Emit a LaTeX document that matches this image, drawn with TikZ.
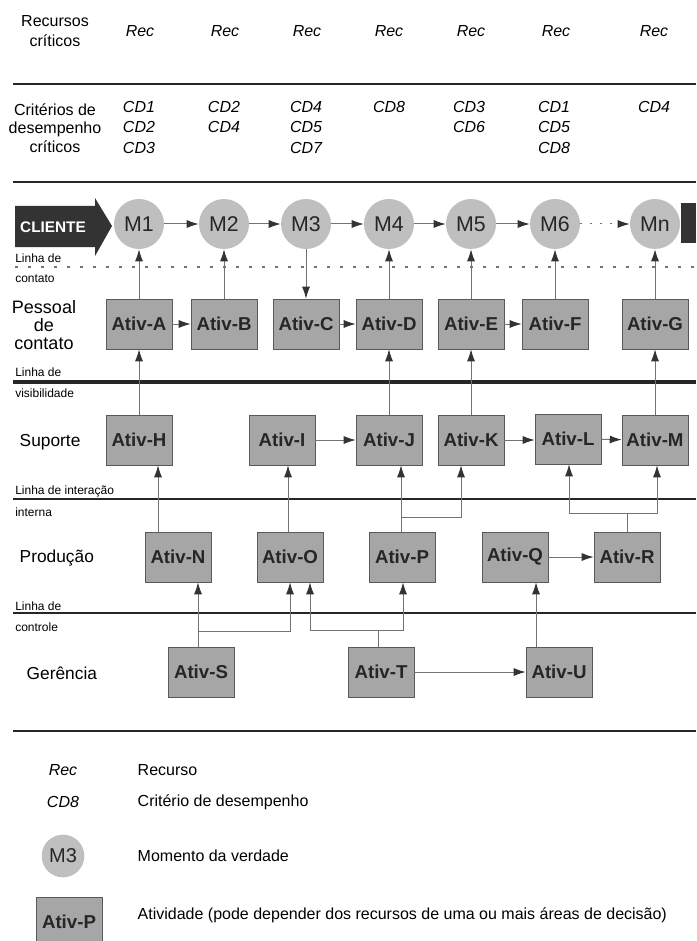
\documentclass[tikz,border=0pt]{standalone}
\usepackage{fontspec}
\setmainfont{Liberation Sans}
\usetikzlibrary{arrows.meta}

\begin{document}
\begin{tikzpicture}[x=0.75pt, y=-0.75pt,
    ativ/.style={draw=black!65, fill=black!35, minimum width=49.5pt, minimum height=37.5pt,
        inner sep=0pt, font=\fontsize{14}{16}\selectfont\bfseries, text=black!85},
    momento/.style={circle, fill=black!25, minimum size=37.5pt, inner sep=0pt,
        font=\fontsize{16}{18}\selectfont, text=black!85},
    arrow/.style={draw=black!55, line width=0.75pt, -{Latex[length=9pt, width=6pt, color=black!80]}},
    crit/.style={font=\fontsize{12}{15.4}\selectfont\itshape, align=center, anchor=north, inner sep=0pt},
    rowlabel/.style={font=\fontsize{13}{13.5}\selectfont, align=center},
    linelabel/.style={font=\fontsize{9}{10}\selectfont, anchor=base west, inner sep=0pt},
    sepline/.style={line width=2pt, black!85},
    legtext/.style={font=\fontsize{12}{14}\selectfont, anchor=west},
]
    \useasboundingbox (0,0) rectangle (696,941);

    % separadores
    \foreach \y in {84,182,499,613,731}
        \draw[sepline] (13,\y) -- (696,\y);
    \draw[sepline, line width=3pt] (13,382) -- (696,382);
    \draw[black!55, line width=0.9pt, dash pattern=on 2.25pt off 7.5pt] (15,267) -- (696,267);

    % recursos e criterios
    \node[rowlabel, font=\fontsize{12}{15}\selectfont] (recursos) at (55,31) {Recursos\\críticos};
    \foreach \x [count=\i] in {140,225,307,389,471,556,654}
        \node[crit, anchor=center] (rec\i) at (\x,31) {Rec};
    \node[rowlabel, font=\fontsize{12}{13.9}\selectfont] (criterios) at (55,128) {Critérios de\\desempenho\\críticos};
    \node[crit] (cd1) at (139,101) {CD1\\CD2\\CD3};
    \node[crit] (cd2) at (224,101) {CD2\\CD4};
    \node[crit] (cd3) at (306,101) {CD4\\CD5\\CD7};
    \node[crit] (cd4) at (389,101) {CD8};
    \node[crit] (cd5) at (469,101) {CD3\\CD6};
    \node[crit] (cd6) at (554,101) {CD1\\CD5\\CD8};
    \node[crit] (cd7) at (654,101) {CD4};

    % cliente
    \fill[black!80] (15,206) -- (95,206) -- (95,198) -- (112,226) -- (95,256) -- (95,247) -- (15,247) -- cycle;
    \node[text=white, font=\fontsize{11.5}{13}\selectfont\bfseries] (cliente) at (53,227) {CLIENTE};
    \fill[black!80] (681,203) rectangle (696,243);

    \foreach \x/\m [count=\i] in {139/M1,224/M2,306/M3,389/M4,471/M5,555/M6,655/Mn}
        \node[momento] (m\i) at (\x,224) {\m};
    \foreach \i/\j in {1/2,2/3,3/4,4/5,5/6}
        \draw[arrow] (m\i) -- (m\j);
    \draw[arrow, dash pattern=on 1.5pt off 6pt] (m6) -- (m7);

    % linhas
    \node[linelabel] (lcont1) at (15,262) {Linha de};
    \node[linelabel] (lcont2) at (15,282) {contato};
    \node[linelabel] (lvis1) at (15,376) {Linha de};
    \node[linelabel] (lvis2) at (15,397) {visibilidade};
    \node[linelabel] (lint1) at (15,494) {Linha de interação};
    \node[linelabel] (lint2) at (15,516) {interna};
    \node[linelabel] (lctr1) at (15,610) {Linha de};
    \node[linelabel] (lctr2) at (15,631) {controle};

    \node[rowlabel, font=\fontsize{13.5}{13.5}\selectfont] (pessoal) at (44,325) {Pessoal\\de\\contato};
    \node[rowlabel, anchor=west] (suporte) at (15,442) {Suporte};
    \node[rowlabel, anchor=west] (producao) at (15,558) {Produção};
    \node[rowlabel, anchor=west] (gerencia) at (22,673) {Gerência};

    % atividades
    \node[ativ] (ativA) at (139,324) {Ativ-A};
    \node[ativ] (ativB) at (224,324) {Ativ-B};
    \node[ativ] (ativC) at (306,324) {Ativ-C};
    \node[ativ] (ativD) at (389,324) {Ativ-D};
    \node[ativ] (ativE) at (471,324) {Ativ-E};
    \node[ativ] (ativF) at (555,324) {Ativ-F};
    \node[ativ] (ativG) at (655,324) {Ativ-G};

    \node[ativ] (ativH) at (139,440) {Ativ-H};
    \node[ativ] (ativI) at (282,440) {Ativ-I};
    \node[ativ] (ativJ) at (389,440) {Ativ-J};
    \node[ativ] (ativK) at (471,440) {Ativ-K};
    \node[ativ] (ativL) at (568,439) {Ativ-L};
    \node[ativ] (ativM) at (655,440) {Ativ-M};

    \node[ativ] (ativN) at (178,557) {Ativ-N};
    \node[ativ] (ativO) at (290,557) {Ativ-O};
    \node[ativ] (ativP) at (402,557) {Ativ-P};
    \node[ativ] (ativQ) at (515,557) {Ativ-Q};
    \node[ativ] (ativR) at (627,557) {Ativ-R};

    \node[ativ] (ativS) at (201,672) {Ativ-S};
    \node[ativ] (ativT) at (381,672) {Ativ-T};
    \node[ativ] (ativU) at (559,672) {Ativ-U};

    \coordinate (xNH) at (158,0);
    \coordinate (xOI) at (288,0);
    \coordinate (xP) at (401,0);
    \coordinate (jPK) at (461,517);
    \coordinate (jRL) at (569,513);
    \coordinate (jRM) at (657,513);
    \coordinate (xUQ) at (536,0);
    \coordinate (xS) at (198,0);
    \coordinate (jSO) at (290,631);
    \coordinate (xT) at (378,0);
    \coordinate (jTO) at (310,630);
    \coordinate (jTP) at (403,630);

    \draw[arrow] (ativA) -- (m1);
    \draw[arrow] (ativB) -- (m2);
    \draw[arrow] (m3) -- (ativC);
    \draw[arrow] (ativD) -- (m4);
    \draw[arrow] (ativE) -- (m5);
    \draw[arrow] (ativF) -- (m6);
    \draw[arrow] (ativG) -- (m7);

    \draw[arrow] (ativA) -- (ativB);
    \draw[arrow] (ativC) -- (ativD);
    \draw[arrow] (ativE) -- (ativF);

    \draw[arrow] (ativH) -- (ativA);
    \draw[arrow] (ativJ) -- (ativD);
    \draw[arrow] (ativK) -- (ativE);
    \draw[arrow] (ativM) -- (ativG);
    \draw[arrow] (ativI) -- (ativJ);
    \draw[arrow] (ativK.east) -- (ativL.west |- ativK.east);
    \draw[arrow] (ativL) -- (ativM);

    \draw[arrow] (ativN.north -| xNH) -- (ativH.south -| xNH);
    \draw[arrow] (ativO.north -| xOI) -- (ativI.south -| xOI);
    \draw[arrow] (ativP.north -| xP) -- (ativJ.south -| xP);
    \draw[arrow] (ativP.north -| xP) |- (jPK) -- (ativK.south -| jPK);
    \draw[arrow] (ativR.north) |- (jRL) -- (ativL.south -| jRL);
    \draw[arrow] (ativR.north) |- (jRM) -- (ativM.south -| jRM);
    \draw[arrow] (ativQ) -- (ativR);

    \draw[arrow] (ativS.north -| xS) -- (ativN.south -| xS);
    \draw[arrow] (ativS.north -| xS) |- (jSO) -- (ativO.south -| jSO);
    \draw[arrow] (ativT.north -| xT) |- (jTO) -- (ativO.south -| jTO);
    \draw[arrow] (ativT.north -| xT) |- (jTP) -- (ativP.south -| jTP);
    \draw[arrow] (ativT) -- (ativU);
    \draw[arrow] (ativU.north -| xUQ) -- (ativQ.south -| xUQ);

    % legenda
    \node[crit, anchor=center] (legRec) at (63,770) {Rec};
    \node[legtext] (legRecTxt) at (133,770) {Recurso};
    \node[crit, anchor=center] (legCD) at (63,802) {CD8};
    \node[legtext] (legCDTxt) at (133,802) {Critério de desempenho};
    \node[momento, minimum size=32pt, font=\fontsize{15}{17}\selectfont] (legM) at (63,856) {M3};
    \node[legtext] (legMTxt) at (133,856) {Momento da verdade};
    \node[ativ] (legAtiv) at (69,922) {Ativ-P};
    \node[legtext] (legAtivTxt) at (133,915) {Atividade (pode depender dos recursos de uma ou mais áreas de decisão)};
\end{tikzpicture}
\end{document}
